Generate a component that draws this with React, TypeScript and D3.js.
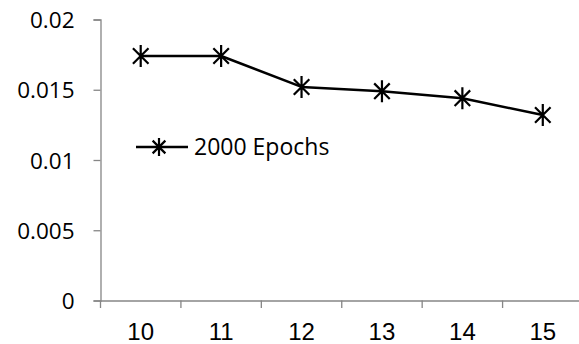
import { useEffect, useRef } from 'react';
import * as d3 from 'd3';

const categories = ['10', '11', '12', '13', '14', '15'];
const errorValues = [0.0174, 0.0174, 0.0152, 0.0149, 0.0144, 0.0132];
const yTicks = [0, 0.005, 0.01, 0.015, 0.02];
const yTickLabels = ['0', '0.005', '0.01', '0.015', '0.02'];
const seriesName = '2000 Epochs';

const W = 579;
const H = 344;

// six-armed asterisk marker
function starPath(cx: number, cy: number, r: number) {
  const d = r * Math.SQRT1_2;
  return `M${cx},${cy - r}L${cx},${cy + r}` +
    `M${cx - d},${cy - d}L${cx + d},${cy + d}` +
    `M${cx - d},${cy + d}L${cx + d},${cy - d}`;
}

export default function App() {
  const svgRef = useRef<SVGSVGElement>(null);

  useEffect(() => {
    if (!svgRef.current) return;
    const svg = d3.select(svgRef.current);
    svg.selectAll('*').remove();

    const x = d3.scaleBand<string>()
      .domain(categories)
      .range([100.5, 583]);

    const y = d3.scaleLinear()
      .domain([0, 0.02])
      .range([300.5, 19.5]);

    const axisColor = '#868686';

    // Y axis
    const yAxis = svg.append('g')
      .attr('transform', 'translate(100.5,0)')
      .call(d3.axisLeft(y).tickValues(yTicks).tickSize(7).tickPadding(0)
        .tickFormat((_, i) => yTickLabels[i]));
    yAxis.select('.domain').attr('stroke', axisColor).attr('stroke-width', 1.3);
    yAxis.selectAll('.tick line').attr('stroke', axisColor).attr('stroke-width', 1.3);
    yAxis.selectAll('.tick text')
      .attr('x', -26)
      .attr('dy', '0.36em')
      .attr('fill', '#000')
      .style('font-family', '"Open Sans", sans-serif')
      .style('font-size', '22.5px');

    // X axis
    const xAxis = svg.append('g')
      .attr('transform', 'translate(0,300.5)')
      .call(d3.axisBottom(x).tickSize(0).tickPadding(0));
    xAxis.select('.domain').attr('stroke', axisColor).attr('stroke-width', 1.3);
    xAxis.selectAll('.tick text')
      .attr('y', 39)
      .attr('dy', 0)
      .attr('fill', '#000')
      .style('font-family', '"Liberation Sans", Arial, sans-serif')
      .style('font-size', '24px');

    // category boundary ticks
    const bounds = categories.map(c => x(c)!).concat([x.range()[1]]);
    svg.append('g')
      .selectAll('line')
      .data(bounds)
      .join('line')
      .attr('x1', d => d)
      .attr('x2', d => d)
      .attr('y1', 300.5)
      .attr('y2', 308)
      .attr('stroke', axisColor)
      .attr('stroke-width', 1.3);

    const cx = (c: string) => x(c)! + x.bandwidth() / 2;

    // Series line
    const line = d3.line<number>()
      .x((_, i) => cx(categories[i]))
      .y(d => y(d));

    svg.append('path')
      .datum(errorValues)
      .attr('fill', 'none')
      .attr('stroke', '#000')
      .attr('stroke-width', 2.5)
      .attr('stroke-linejoin', 'round')
      .attr('d', line);

    svg.append('g')
      .selectAll('path')
      .data(errorValues)
      .join('path')
      .attr('d', (d, i) => starPath(cx(categories[i]), y(d), 11))
      .attr('stroke', '#000')
      .attr('stroke-width', 2.2)
      .attr('fill', 'none');

    // Legend
    const lg = svg.append('g');
    lg.append('line')
      .attr('x1', 136).attr('x2', 188)
      .attr('y1', 147).attr('y2', 147)
      .attr('stroke', '#000').attr('stroke-width', 2.5);
    lg.append('path')
      .attr('d', starPath(159, 147, 9))
      .attr('stroke', '#000').attr('stroke-width', 2.2).attr('fill', 'none');
    lg.append('text')
      .attr('x', 194)
      .attr('y', 147)
      .attr('dy', '0.36em')
      .style('font-family', '"Open Sans", sans-serif')
      .style('font-size', '23px')
      .text(seriesName);
  }, []);

  return (
    <svg
      ref={svgRef}
      width={W}
      height={H}
      style={{ position: 'absolute', left: 0, top: 0, background: '#fff', display: 'block' }}
    />
  );
}
